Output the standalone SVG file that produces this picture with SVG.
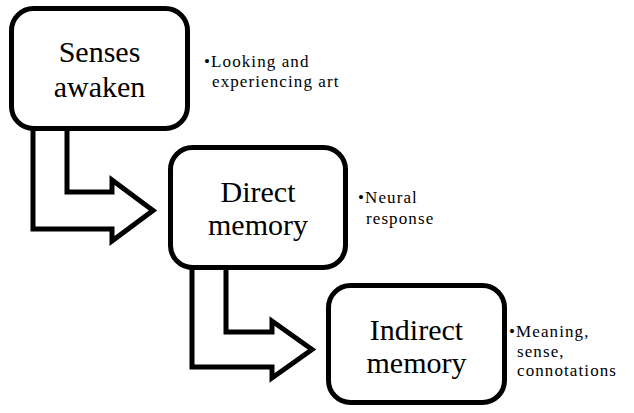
<svg xmlns="http://www.w3.org/2000/svg" width="634" height="413" viewBox="0 0 634 413">
<style>
.box{fill:#fff;stroke:#000;stroke-width:5}
.arr{fill:#fff;stroke:#000;stroke-width:5;stroke-linejoin:miter}
.main{font-size:30px;fill:#000;text-anchor:middle}
.note{font-size:17px;fill:#000;letter-spacing:1.1px}
</style>
<rect width="634" height="413" fill="#fff"/>
<g id="connectors">
<path class="arr" d="M33,126 L33,229 L112,229 L112,241 L153,210.5 L112,180 L112,192 L67,192 L67,126"/>
<path class="arr" d="M192,266 L192,367 L272,367 L272,378 L312,349.5 L272,321 L272,332 L226,332 L226,266"/>
</g>
<g font-family="Liberation Serif, Times New Roman, DejaVu Serif, serif">
<g id="n1">
<rect class="box" x="11.5" y="8.5" width="176" height="120" rx="22"/>
<text class="main" x="99.5" y="62">Senses</text>
<text class="main" x="99.5" y="97">awaken</text>
</g>
<g id="n2">
<rect class="box" x="170.5" y="147.5" width="175" height="120" rx="22"/>
<text class="main" x="258" y="202">Direct</text>
<text class="main" x="258" y="235">memory</text>
</g>
<g id="n3">
<rect class="box" x="328.5" y="285.5" width="176" height="117" rx="22"/>
<text class="main" x="416.5" y="340">Indirect</text>
<text class="main" x="416.5" y="373">memory</text>
</g>
<g id="b1">
<text class="note" x="204" y="67">•Looking and</text>
<text class="note" x="212" y="86.5">experiencing art</text>
</g>
<g id="b2">
<text class="note" x="358" y="203">•Neural</text>
<text class="note" x="366" y="224">response</text>
</g>
<g id="b3">
<text class="note" x="509" y="337">•Meaning,</text>
<text class="note" x="517" y="356.5">sense,</text>
<text class="note" x="517" y="376">connotations</text>
</g>
</g>
</svg>
